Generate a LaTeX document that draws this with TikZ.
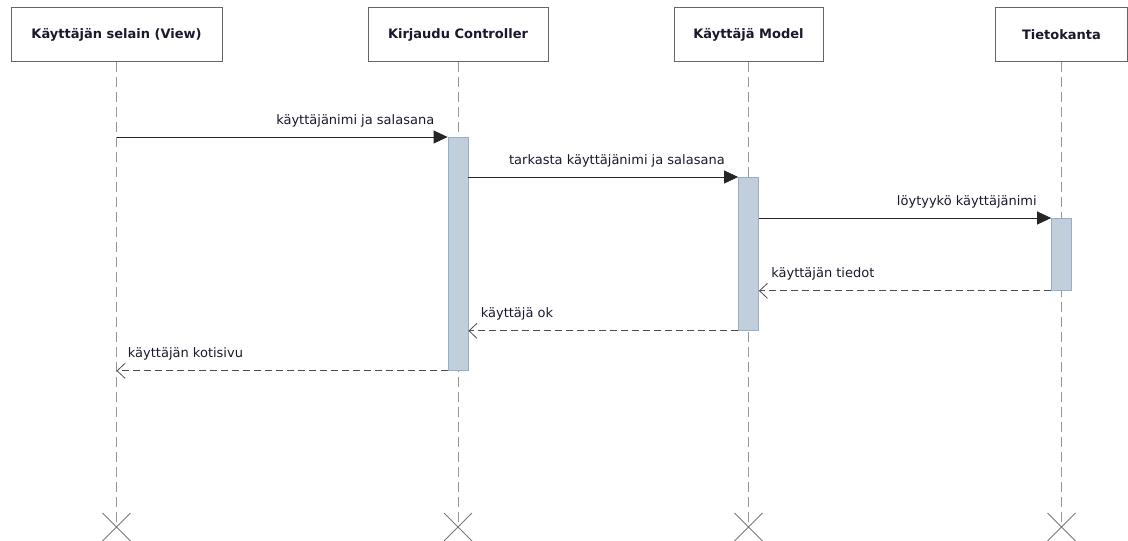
\documentclass[tikz,border=0pt]{standalone}
\usepackage{fontspec}
\setmainfont{DejaVu Sans}
\usetikzlibrary{arrows.meta,positioning}
\definecolor{actfill}{RGB}{193,207,221}
\definecolor{actdraw}{RGB}{150,175,200}
\definecolor{lifegray}{RGB}{150,150,150}
\definecolor{txt}{RGB}{25,25,45}
\tikzset{
    actor/.style={draw=black!60, line width=0.9pt, fill=white, minimum height=54pt,
        inner sep=0pt, font=\bfseries\fontsize{13}{15}\selectfont, text=txt},
    lifeline/.style={draw=lifegray, dash pattern=on 10pt off 5pt, line width=0.8pt},
    activation/.style={draw=actdraw, fill=actfill, minimum width=20pt, inner sep=0pt, line width=0.8pt},
    call/.style={-{Triangle[length=14pt,width=13pt]}, line width=0.8pt, draw=black!85},
    reply/.style={-{Straight Barb[length=8pt,width=15pt]}, dash pattern=on 7pt off 4pt,
        line width=0.8pt, draw=black!70},
    msg/.style={font=\fontsize{13}{15}\selectfont, text=txt, inner sep=0pt},
    endmark/.style={draw=lifegray!80!black, line width=0.8pt}
}

\begin{document}
\begin{tikzpicture}[x=1pt,y=-1pt]
    \useasboundingbox (0,0) rectangle (1128,541);
    % participants
    \node[actor, minimum width=211pt] (view) at (116.5,34.5) {Käyttäjän selain (View)};
    \node[actor, minimum width=180pt] (ctrl) at (458,34.5) {Kirjaudu Controller};
    \node[actor, minimum width=149pt] (model) at (748.5,34.5) {Käyttäjä Model};
    \node[actor, minimum width=132pt] (db) at (1061.5,34.5) {Tietokanta};
    % lifelines with end marks
    \foreach \p in {view,ctrl,model,db} {
        \coordinate (\p End) at (\p.south |- 0,527);
        \draw[lifeline] (\p.south) -- (\p End);
        \draw[endmark] (\p End) +(-14,-14) -- +(14,14) (\p End) +(-14,14) -- +(14,-14);
    }
    % activations
    \node[activation, anchor=north, minimum height=233pt] (actCtrl) at (ctrl.south |- 0,137) {};
    \node[activation, anchor=north, minimum height=153pt] (actModel) at (model.south |- 0,177) {};
    \node[activation, anchor=north, minimum height=72pt] (actDb) at (db.south |- 0,218) {};
    % messages
    \coordinate (m1) at (view.south |- actCtrl.north);
    \coordinate (m2) at (actCtrl.east |- actModel.north);
    \coordinate (m3) at (actModel.east |- actDb.north);
    \coordinate (r1) at (actModel.east |- actDb.south);
    \coordinate (r2) at (actCtrl.east |- actModel.south);
    \coordinate (r3) at (view.south |- actCtrl.south);
    \draw[call] (m1) -- (actCtrl.north west)
        node[msg, pos=1, anchor=base east, xshift=-13pt, yshift=13pt] {käyttäjänimi ja salasana};
    \draw[call] (m2) -- (actModel.north west)
        node[msg, pos=1, anchor=base east, xshift=-13pt, yshift=13pt] {tarkasta käyttäjänimi ja salasana};
    \draw[call] (m3) -- (actDb.north west)
        node[msg, pos=1, anchor=base east, xshift=-14pt, yshift=13pt] {löytyykö käyttäjänimi};
    \draw[reply] (actDb.south west) -- (r1)
        node[msg, pos=1, anchor=base west, xshift=12pt, yshift=13pt] {käyttäjän tiedot};
    \draw[reply] (actModel.south west) -- (r2)
        node[msg, pos=1, anchor=base west, xshift=12pt, yshift=13pt] {käyttäjä ok};
    \draw[reply] (actCtrl.south west) -- (r3)
        node[msg, pos=1, anchor=base west, xshift=11pt, yshift=13pt] {käyttäjän kotisivu};
\end{tikzpicture}
\end{document}
